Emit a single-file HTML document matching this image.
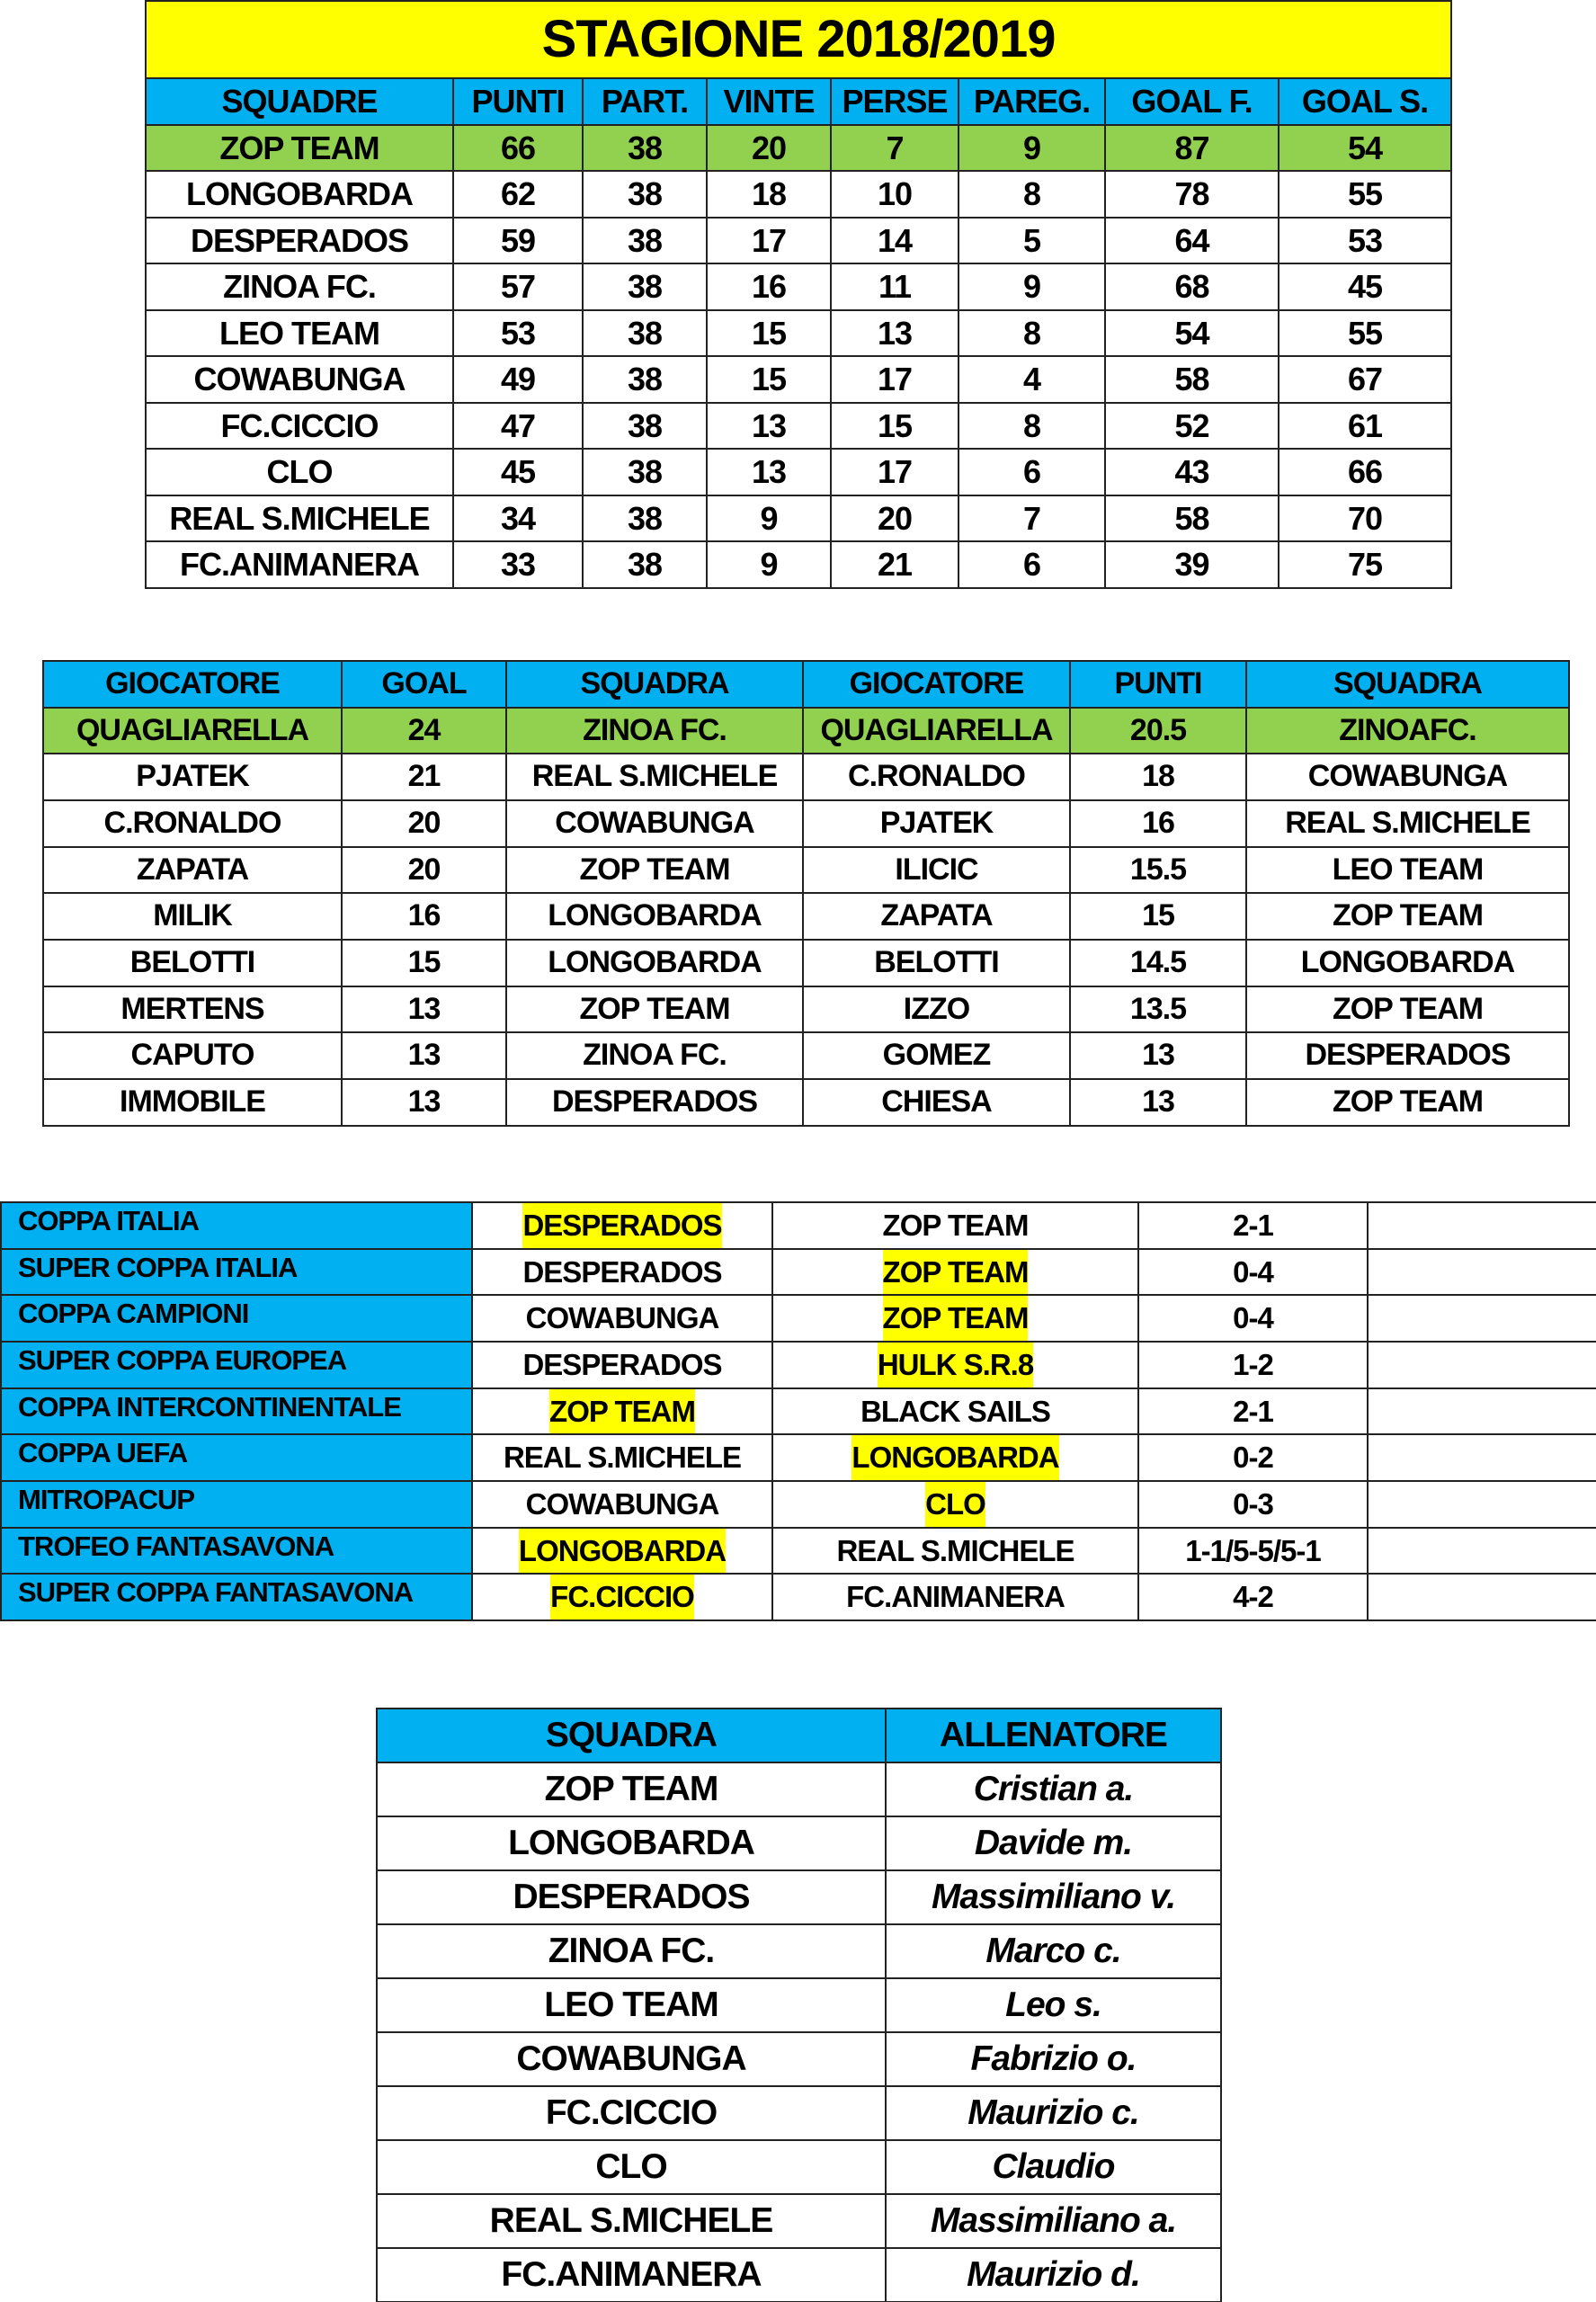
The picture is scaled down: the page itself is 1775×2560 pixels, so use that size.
<!DOCTYPE html>
<html><head><meta charset="utf-8"><style>
html,body{margin:0;padding:0;background:#fff;width:1775px;height:2560px;overflow:hidden;position:relative}
table{position:absolute;border-collapse:collapse;table-layout:fixed;font-family:"Liberation Sans",sans-serif;font-weight:bold;color:#000}
td{border:2px solid #222;text-align:center;padding:0;white-space:nowrap;overflow:hidden;letter-spacing:-1px}
.b{background:#00B0F0}.g{background:#92D050}.y{background:#FFFF00}
#t1 td{font-size:36px;height:49.5px;line-height:49.5px}
#t2 td{font-size:34px;height:49.65px;line-height:49.65px}
#t3 td{font-size:33px;height:49.65px;line-height:49.65px}
#t3 td.l{text-align:left;padding-left:18px;font-size:31px;vertical-align:top;line-height:40px}
#t3 span{background:#FFFF00;display:inline-block;line-height:49.65px}
#t4 td{font-size:39px;height:58px}
#t4 td.i{font-style:italic}
</style></head><body>
<table id="t1" style="left:161px;top:0;width:1452px">
<colgroup><col style="width:342px"><col style="width:144px"><col style="width:138px"><col style="width:138px"><col style="width:142px"><col style="width:163px"><col style="width:193px"><col style="width:192px"></colgroup>
<tr><td colspan="8" class="y" style="height:84px;line-height:84px;font-size:58px">STAGIONE 2018/2019</td></tr>
<tr class="b"><td>SQUADRE</td><td>PUNTI</td><td>PART.</td><td>VINTE</td><td>PERSE</td><td>PAREG.</td><td>GOAL F.</td><td>GOAL S.</td></tr>
<tr class="g"><td>ZOP TEAM</td><td>66</td><td>38</td><td>20</td><td>7</td><td>9</td><td>87</td><td>54</td></tr>
<tr><td>LONGOBARDA</td><td>62</td><td>38</td><td>18</td><td>10</td><td>8</td><td>78</td><td>55</td></tr>
<tr><td>DESPERADOS</td><td>59</td><td>38</td><td>17</td><td>14</td><td>5</td><td>64</td><td>53</td></tr>
<tr><td>ZINOA FC.</td><td>57</td><td>38</td><td>16</td><td>11</td><td>9</td><td>68</td><td>45</td></tr>
<tr><td>LEO TEAM</td><td>53</td><td>38</td><td>15</td><td>13</td><td>8</td><td>54</td><td>55</td></tr>
<tr><td>COWABUNGA</td><td>49</td><td>38</td><td>15</td><td>17</td><td>4</td><td>58</td><td>67</td></tr>
<tr><td>FC.CICCIO</td><td>47</td><td>38</td><td>13</td><td>15</td><td>8</td><td>52</td><td>61</td></tr>
<tr><td>CLO</td><td>45</td><td>38</td><td>13</td><td>17</td><td>6</td><td>43</td><td>66</td></tr>
<tr><td>REAL S.MICHELE</td><td>34</td><td>38</td><td>9</td><td>20</td><td>7</td><td>58</td><td>70</td></tr>
<tr><td>FC.ANIMANERA</td><td>33</td><td>38</td><td>9</td><td>21</td><td>6</td><td>39</td><td>75</td></tr>
</table>

<table id="t2" style="left:47px;top:734px;width:1697px">
<colgroup><col style="width:332px"><col style="width:183px"><col style="width:330px"><col style="width:297px"><col style="width:196px"><col style="width:359px"></colgroup>
<tr class="b"><td>GIOCATORE</td><td>GOAL</td><td>SQUADRA</td><td>GIOCATORE</td><td>PUNTI</td><td>SQUADRA</td></tr>
<tr class="g"><td>QUAGLIARELLA</td><td>24</td><td>ZINOA FC.</td><td>QUAGLIARELLA</td><td>20.5</td><td>ZINOAFC.</td></tr>
<tr><td>PJATEK</td><td>21</td><td>REAL S.MICHELE</td><td>C.RONALDO</td><td>18</td><td>COWABUNGA</td></tr>
<tr><td>C.RONALDO</td><td>20</td><td>COWABUNGA</td><td>PJATEK</td><td>16</td><td>REAL S.MICHELE</td></tr>
<tr><td>ZAPATA</td><td>20</td><td>ZOP TEAM</td><td>ILICIC</td><td>15.5</td><td>LEO TEAM</td></tr>
<tr><td>MILIK</td><td>16</td><td>LONGOBARDA</td><td>ZAPATA</td><td>15</td><td>ZOP TEAM</td></tr>
<tr><td>BELOTTI</td><td>15</td><td>LONGOBARDA</td><td>BELOTTI</td><td>14.5</td><td>LONGOBARDA</td></tr>
<tr><td>MERTENS</td><td>13</td><td>ZOP TEAM</td><td>IZZO</td><td>13.5</td><td>ZOP TEAM</td></tr>
<tr><td>CAPUTO</td><td>13</td><td>ZINOA FC.</td><td>GOMEZ</td><td>13</td><td>DESPERADOS</td></tr>
<tr><td>IMMOBILE</td><td>13</td><td>DESPERADOS</td><td>CHIESA</td><td>13</td><td>ZOP TEAM</td></tr>
</table>

<table id="t3" style="left:0;top:1336px;width:1775px">
<colgroup><col style="width:524px"><col style="width:334px"><col style="width:407px"><col style="width:255px"><col style="width:255px"></colgroup>
<tr><td class="l b">COPPA ITALIA</td><td><span>DESPERADOS</span></td><td>ZOP TEAM</td><td>2-1</td><td></td></tr>
<tr><td class="l b">SUPER COPPA ITALIA</td><td>DESPERADOS</td><td><span>ZOP TEAM</span></td><td>0-4</td><td></td></tr>
<tr><td class="l b">COPPA CAMPIONI</td><td>COWABUNGA</td><td><span>ZOP TEAM</span></td><td>0-4</td><td></td></tr>
<tr><td class="l b">SUPER COPPA EUROPEA</td><td>DESPERADOS</td><td><span>HULK S.R.8</span></td><td>1-2</td><td></td></tr>
<tr><td class="l b">COPPA INTERCONTINENTALE</td><td><span>ZOP TEAM</span></td><td>BLACK SAILS</td><td>2-1</td><td></td></tr>
<tr><td class="l b">COPPA UEFA</td><td>REAL S.MICHELE</td><td><span>LONGOBARDA</span></td><td>0-2</td><td></td></tr>
<tr><td class="l b">MITROPACUP</td><td>COWABUNGA</td><td><span>CLO</span></td><td>0-3</td><td></td></tr>
<tr><td class="l b">TROFEO FANTASAVONA</td><td><span>LONGOBARDA</span></td><td>REAL S.MICHELE</td><td>1-1/5-5/5-1</td><td></td></tr>
<tr><td class="l b">SUPER COPPA FANTASAVONA</td><td><span>FC.CICCIO</span></td><td>FC.ANIMANERA</td><td>4-2</td><td></td></tr>
</table>

<table id="t4" style="left:418px;top:1899px;width:939px">
<colgroup><col style="width:566px"><col style="width:373px"></colgroup>
<tr class="b"><td>SQUADRA</td><td>ALLENATORE</td></tr>
<tr><td>ZOP TEAM</td><td class="i">Cristian a.</td></tr>
<tr><td>LONGOBARDA</td><td class="i">Davide m.</td></tr>
<tr><td>DESPERADOS</td><td class="i">Massimiliano v.</td></tr>
<tr><td>ZINOA FC.</td><td class="i">Marco c.</td></tr>
<tr><td>LEO TEAM</td><td class="i">Leo s.</td></tr>
<tr><td>COWABUNGA</td><td class="i">Fabrizio o.</td></tr>
<tr><td>FC.CICCIO</td><td class="i">Maurizio c.</td></tr>
<tr><td>CLO</td><td class="i">Claudio</td></tr>
<tr><td>REAL S.MICHELE</td><td class="i">Massimiliano a.</td></tr>
<tr><td>FC.ANIMANERA</td><td class="i">Maurizio d.</td></tr>
</table>
</body></html>
